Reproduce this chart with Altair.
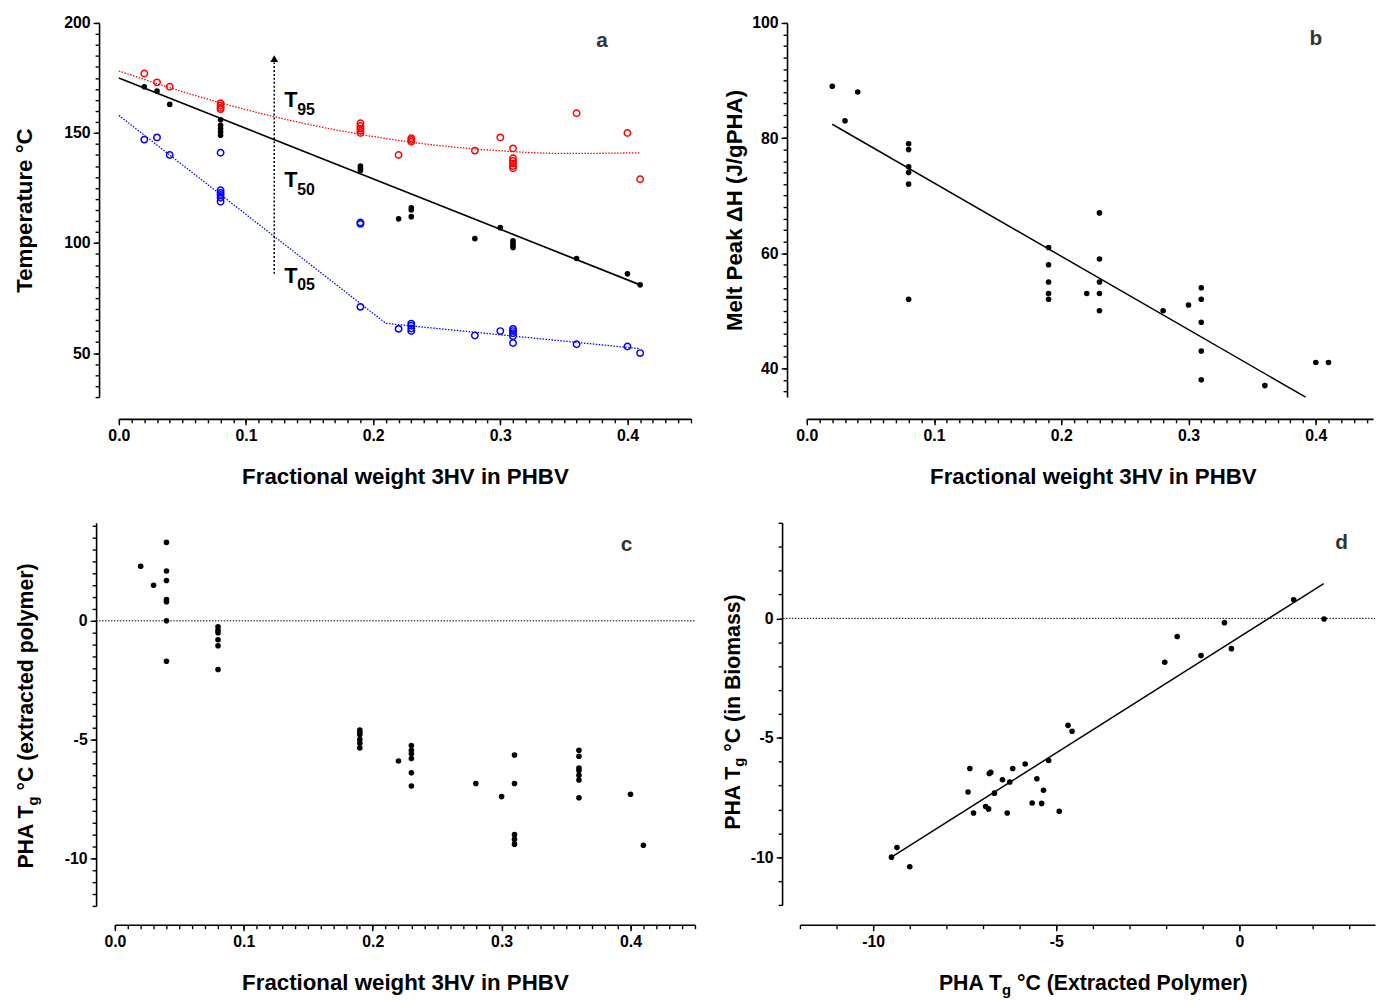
import altair as alt
import pandas as pd

FONT = "Liberation Sans"
INK = "#000000"
RED = "#ff0000"
BLUE = "#0000ff"
LETTER = "#333333"

# ---------------- panel a : degradation temperatures ----------------
a_t95_x = [0.02, 0.03, 0.04, 0.08, 0.08, 0.08, 0.08, 0.19, 0.19, 0.19, 0.19, 0.19,
           0.22, 0.23, 0.23, 0.23, 0.28, 0.30, 0.31, 0.31, 0.31, 0.31, 0.31, 0.31,
           0.36, 0.40, 0.41]
a_t95_y = [177, 173, 171, 163.5, 162.5, 161.5, 160.8, 154.4, 153.2, 152, 151, 150,
           140, 147.6, 146.8, 146, 142, 148, 143, 138.5, 137.3, 136.2, 135, 134,
           159, 150, 129]
a_t50_x = [0.02, 0.03, 0.04, 0.08, 0.08, 0.08, 0.08, 0.08, 0.19, 0.19, 0.19,
           0.22, 0.23, 0.23, 0.23, 0.28, 0.30, 0.31, 0.31, 0.31, 0.31, 0.36, 0.40, 0.41]
a_t50_y = [171, 169, 163, 156, 153.5, 152, 150.5, 149, 135, 134, 133,
           111, 116, 115, 112, 102, 107, 101, 100, 99, 98, 93, 86, 81]
a_t05_x = [0.02, 0.03, 0.04, 0.08, 0.08, 0.08, 0.08, 0.08, 0.08, 0.19, 0.19, 0.19,
           0.22, 0.23, 0.23, 0.23, 0.23, 0.28, 0.30, 0.31, 0.31, 0.31, 0.31, 0.31,
           0.36, 0.40, 0.41]
a_t05_y = [147, 148, 140, 141, 124, 122.8, 121.8, 120.6, 118.8, 109.3, 108.7, 71,
           61, 63.4, 62.4, 61.2, 60, 58, 60, 61, 60, 59, 57.7, 54.6,
           54, 53, 50]
a_fit50_x = [0.0, 0.41]
a_fit50_y = [175, 81]
a_fit95_x = [0.0, 0.05, 0.1, 0.15, 0.2, 0.25, 0.3, 0.35, 0.41]
a_fit95_y = [178.2, 168.8, 160.6, 153.8, 148.4, 144.4, 141.9, 140.7, 141.0]
a_fit05_x = [0.0, 0.21, 0.41]
a_fit05_y = [158, 63.5, 52]
a_arrow_x = 0.1222
a_arrow_y = [86, 182]
a_arrow_head_y = 183.8
a_T_labels = ["T", "T", "T"]
a_T_x = [0.1300, 0.1300, 0.1300]
a_T_y = [161.6, 125.5, 82.0]
a_sub_labels = ["95", "50", "05"]
a_sub_x = [0.1403, 0.1403, 0.1403]
a_sub_y = [158.1, 121.6, 78.5]

# ---------------- panel b : melt enthalpy ----------------
b_x = [0.02, 0.03, 0.04, 0.08, 0.08, 0.08, 0.08, 0.08, 0.08,
       0.19, 0.19, 0.19, 0.19, 0.19, 0.22, 0.23, 0.23, 0.23, 0.23, 0.23,
       0.28, 0.30, 0.31, 0.31, 0.31, 0.31, 0.31, 0.36, 0.40, 0.41]
b_y = [89, 83, 88, 79, 78, 75, 74, 72, 52,
       61, 58, 55, 53, 52, 53, 67, 59, 55, 53, 50,
       50, 51, 54, 52, 48, 43, 38, 37, 41, 41]
b_fit_x = [0.02, 0.392]
b_fit_y = [82.4, 35.0]

# ---------------- panel c : Tg of extracted polymer ----------------
c_x = [0.02, 0.03, 0.04, 0.04, 0.04, 0.04, 0.04, 0.04, 0.04,
       0.08, 0.08, 0.08, 0.08, 0.08, 0.08,
       0.19, 0.19, 0.19, 0.19, 0.19, 0.19, 0.22,
       0.23, 0.23, 0.23, 0.23, 0.23, 0.23, 0.28, 0.30,
       0.31, 0.31, 0.31, 0.31, 0.31,
       0.36, 0.36, 0.36, 0.36, 0.36, 0.36, 0.36, 0.40, 0.41]
c_y = [2.3, 1.5, 3.3, 2.1, 1.7, 0.9, 0.8, 0.0, -1.7,
       -0.25, -0.4, -0.5, -0.8, -1.05, -2.05,
       -4.6, -4.7, -4.8, -5.0, -5.15, -5.35, -5.9,
       -5.25, -5.45, -5.6, -5.8, -6.4, -6.95, -6.85, -7.4,
       -5.65, -6.85, -9.0, -9.2, -9.4,
       -5.45, -5.7, -6.2, -6.3, -6.5, -6.7, -7.45, -7.3, -9.45]

# ---------------- panel d : Tg biomass vs extracted ----------------
d_x = [-9.5, -9.35, -9.0, -7.41, -7.36, -7.26, -6.93, -6.85, -6.83, -6.79, -6.69,
       -6.47, -6.34, -6.27, -6.19, -5.85, -5.66, -5.53, -5.4, -5.35, -5.21,
       -4.92, -4.68, -4.57, -2.04, -1.7, -1.05, -0.41, -0.22, 1.48, 2.31]
d_y = [-10.0, -9.6, -10.4, -7.27, -6.29, -8.15, -7.88, -7.98, -6.5, -6.45, -7.32,
       -6.76, -8.15, -6.85, -6.29, -6.1, -7.73, -6.72, -7.75, -7.2, -5.95,
       -8.08, -4.48, -4.73, -1.84, -0.76, -1.56, -0.18, -1.27, 0.78, -0.03]
d_fit_x = [-9.5, 2.3]
d_fit_y = [-10.0, 1.45]

X_TITLE = "Fractional weight 3HV in PHBV"

# ---------------- helpers ----------------
ONE = pd.DataFrame({"k": [0]})


def steps(start, stop, step, nd):
    n = int(round((stop - start) / step))
    return [round(start + i * step, nd) for i in range(n + 1)]


def sc(dom, rng=None):
    if rng is None:
        return alt.Scale(domain=dom, nice=False, zero=False)
    return alt.Scale(domain=dom, range=rng, nice=False, zero=False)


def xy(xsc, ysc):
    return dict(x=alt.X("x:Q", scale=xsc, axis=None),
                y=alt.Y("y:Q", scale=ysc, axis=None))


def axes(xsc, ysc, x0, y0, xmaj, xmin, xlab, ymaj, ymin, ylab, xoff, yoff,
         xtitle=None, ytitle=None, xtp=20, ytp=20, xtitle_x=None):
    df = pd.DataFrame({"x": [x0], "y": [y0]})
    xa = dict(orient="bottom", values=xmaj, labelExpr=xlab, offset=xoff, tickSize=6,
              labelPadding=3, labelFlush=False, labelOverlap=False,
              title=xtitle, titlePadding=xtp)
    if xtitle_x is not None:
        xa["titleX"] = xtitle_x
    ya = dict(orient="left", values=ymaj, labelExpr=ylab, offset=yoff, tickSize=6,
              labelPadding=3, labelFlush=False, labelOverlap=False,
              title=ytitle, titlePadding=ytp)
    major = alt.Chart(df).mark_point(opacity=0).encode(
        x=alt.X("x:Q", scale=xsc, axis=alt.Axis(**xa)),
        y=alt.Y("y:Q", scale=ysc, axis=alt.Axis(**ya)))
    minor = alt.Chart(df).mark_point(opacity=0).encode(
        x=alt.X("x:Q", scale=xsc,
                axis=alt.Axis(orient="bottom", values=xmin, labels=False, domain=False,
                              tickSize=4, offset=xoff, title=None)),
        y=alt.Y("y:Q", scale=ysc,
                axis=alt.Axis(orient="left", values=ymin, labels=False, domain=False,
                              tickSize=4, offset=yoff, title=None)))
    return [major, minor]


def pts(xs, ys, xsc, ysc, color, filled, size):
    df = pd.DataFrame({"x": xs, "y": ys})
    return alt.Chart(df).mark_point(filled=filled, size=size, color=color,
                                    strokeWidth=1.5, opacity=1).encode(**xy(xsc, ysc))


def line(xs, ys, xsc, ysc, color, width, dash=None, interp=None):
    df = pd.DataFrame({"x": xs, "y": ys})
    kw = dict(color=color, strokeWidth=width)
    if dash:
        kw["strokeDash"] = dash
    if interp:
        kw["interpolate"] = interp
    return alt.Chart(df).mark_line(**kw).encode(**xy(xsc, ysc))


def dtext(xs, ys, labels, xsc, ysc, size, color, align="left", baseline="alphabetic"):
    df = pd.DataFrame({"x": xs, "y": ys, "t": labels})
    return alt.Chart(df).mark_text(align=align, baseline=baseline, font=FONT,
                                   fontSize=size, fontWeight="bold", color=color).encode(
        text="t:N", **xy(xsc, ysc))


def ptext(x, y, s, size, angle=0, align="left"):
    return alt.Chart(ONE).mark_text(text=s, angle=angle, align=align, baseline="alphabetic",
                                    font=FONT, fontSize=size, fontWeight="bold",
                                    color=INK).encode(x=alt.value(x), y=alt.value(y))


def zero_rule(x0, x1, xsc, ysc):
    df = pd.DataFrame({"x": [x0], "x2": [x1], "y": [0]})
    return alt.Chart(df).mark_rule(color=INK, strokeWidth=1, strokeDash=[1.5, 1.5]).encode(
        x=alt.X("x:Q", scale=xsc, axis=None), x2="x2:Q",
        y=alt.Y("y:Q", scale=ysc, axis=None))


TS, SS = 21.5, 15        # Tg title font size, subscript size
W_PHAT = 3.000 * TS      # width of "PHA T"
W_G = 0.611 * SS         # width of subscript g
W_SP = 0.278 * TS        # width of a space


def tg_title_vertical(cx, cy, rest, rest_em):
    rest_w = rest_em * TS
    total = W_PHAT + W_G + W_SP + rest_w
    bottom = cy + total / 2
    ya = bottom - W_PHAT
    return [ptext(cx, ya, "PHA T", TS, angle=270, align="right"),
            ptext(cx + 5, ya, "g", SS, angle=270, align="left"),
            ptext(cx, ya - W_G - W_SP, "°C " + rest, TS, angle=270, align="left")]


def tg_title_horizontal(cx, y, rest, rest_em):
    rest_w = rest_em * TS
    total = W_PHAT + W_G + W_SP + rest_w
    xa = cx - total / 2 + W_PHAT
    return [ptext(xa, y, "PHA T", TS, align="right"),
            ptext(xa, y + 5, "g", SS, align="left"),
            ptext(xa + W_G + W_SP, y, "°C " + rest, TS, align="left")]


FMT1 = "format(datum.value, '.1f')"
FMTD = "format(datum.value, 'd')"
FMTS = "datum.value + ''"

# ---------------- panel a ----------------
AW, AH = 578, 378
AXS, AYS = sc([0, 0.45]), sc([30, 200])
panel_a = alt.layer(
    *axes(AXS, AYS, 0, 30, [0, 0.1, 0.2, 0.3, 0.4], steps(0, 0.45, 0.01, 2), FMT1,
          [50, 100, 150, 200], steps(30, 200, 5, 0), FMTD, 22, 20,
          xtitle=X_TITLE, ytitle="Temperature °C", xtp=22, ytp=28),
    line(a_fit95_x, a_fit95_y, AXS, AYS, RED, 1.3, dash=[1.5, 1.5], interp="monotone"),
    line(a_fit05_x, a_fit05_y, AXS, AYS, BLUE, 1.3, dash=[1.5, 1.5]),
    line(a_fit50_x, a_fit50_y, AXS, AYS, INK, 1.7),
    alt.Chart(pd.DataFrame({"x": [a_arrow_x], "y": [a_arrow_y[0]], "y2": [a_arrow_y[1]]}))
    .mark_rule(color=INK, strokeWidth=1.5, strokeDash=[2, 2])
    .encode(x=alt.X("x:Q", scale=AXS, axis=None),
            y=alt.Y("y:Q", scale=AYS, axis=None), y2="y2:Q"),
    alt.Chart(pd.DataFrame({"x": [a_arrow_x], "y": [a_arrow_head_y]}))
    .mark_point(shape="triangle-up", filled=True, size=60, color=INK, opacity=1)
    .encode(**xy(AXS, AYS)),
    pts(a_t95_x, a_t95_y, AXS, AYS, RED, False, 42),
    pts(a_t05_x, a_t05_y, AXS, AYS, BLUE, False, 42),
    pts(a_t50_x, a_t50_y, AXS, AYS, INK, True, 32),
    dtext(a_T_x, a_T_y, a_T_labels, AXS, AYS, 22, INK),
    dtext(a_sub_x, a_sub_y, a_sub_labels, AXS, AYS, 16, INK),
    dtext([0.38], [191.9], ["a"], AXS, AYS, 21, LETTER, align="center", baseline="middle"),
).properties(width=AW, height=AH).resolve_axis(x="independent", y="independent")

# ---------------- panel b ----------------
BW, BH = 572, 378
BXS, BYS = sc([0, 0.445]), sc([35, 100])
panel_b = alt.layer(
    *axes(BXS, BYS, 0, 35, [0, 0.1, 0.2, 0.3, 0.4], steps(0, 0.44, 0.01, 2), FMT1,
          [40, 60, 80, 100], steps(36, 100, 2, 0), FMTD, 22, 20,
          xtitle=X_TITLE, ytitle="Melt Peak ΔH (J/gPHA)", xtp=22, ytp=5, xtitle_x=289),
    line(b_fit_x, b_fit_y, BXS, BYS, INK, 1.5),
    pts(b_x, b_y, BXS, BYS, INK, True, 32),
    dtext([0.40], [97.2], ["b"], BXS, BYS, 21, LETTER, align="center", baseline="middle"),
).properties(width=BW, height=BH).resolve_axis(x="independent", y="independent")

# ---------------- panel c ----------------
CW, CH = 586, 387
CXS, CYS = sc([0, 0.45], [-4, 582]), sc([-12, 4.125])
panel_c = alt.layer(
    *axes(CXS, CYS, 0, -12, [0, 0.1, 0.2, 0.3, 0.4], steps(0, 0.45, 0.01, 2), FMT1,
          [-10, -5, 0], steps(-12, 4, 0.5, 1), FMTS, 19, 23,
          xtitle=X_TITLE, ytitle=None, xtp=22, xtitle_x=289),
    zero_rule(-0.0146, 0.45, CXS, CYS),
    pts(c_x, c_y, CXS, CYS, INK, True, 32),
    dtext([0.397], [3.17], ["c"], CXS, CYS, 21, LETTER, align="center", baseline="middle"),
    *tg_title_vertical(-87, 195.5, "(extracted polymer)", 10.680),
).properties(width=CW, height=CH).resolve_axis(x="independent", y="independent")

# ---------------- panel d ----------------
DW, DH = 581, 386
DXS, DYS = sc([-12, 3.7]), sc([-12, 4])
panel_d = alt.layer(
    *axes(DXS, DYS, -12, -12, [-10, -5, 0], steps(-12, 3, 1, 0), FMTS,
          [-10, -5, 0], steps(-12, 4, 1, 0), FMTS, 20, 18),
    zero_rule(-12.46, 3.7, DXS, DYS),
    line(d_fit_x, d_fit_y, DXS, DYS, INK, 1.5),
    pts(d_x, d_y, DXS, DYS, INK, True, 32),
    dtext([2.79], [3.15], ["d"], DXS, DYS, 21, LETTER, align="center", baseline="middle"),
    *tg_title_vertical(-61, 191.5, "(in Biomass)", 7.401),
    *tg_title_horizontal(296, DH + 86, "(Extracted Polymer)", 10.847),
).properties(width=DW, height=DH).resolve_axis(x="independent", y="independent")

chart = alt.vconcat(
    alt.hconcat(panel_a, panel_b, spacing=32),
    alt.hconcat(panel_c, panel_d, spacing=23),
    spacing=34,
).properties(
    padding={"left": 5, "top": 2, "right": 0, "bottom": 0}
).configure_view(stroke=None).configure_axis(
    labelFont=FONT, labelFontSize=16, labelFontWeight="bold", labelColor=INK,
    titleFont=FONT, titleFontSize=22.5, titleFontWeight="bold", titleColor=INK,
    domainColor=INK, tickColor=INK, domainWidth=1.6, tickWidth=1.4, grid=False,
)

chart.save("out.html", embed_options={"renderer": "svg", "actions": False})
